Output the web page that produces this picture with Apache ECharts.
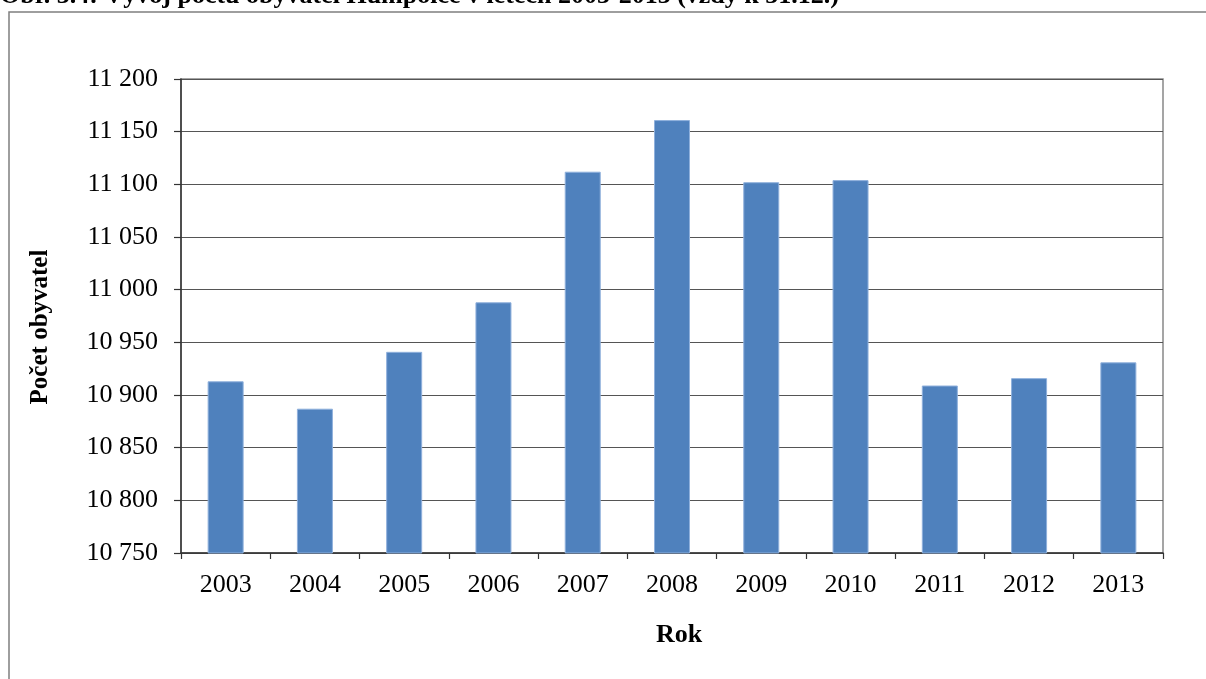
<!DOCTYPE html>
<html>
<head>
<meta charset="utf-8">
<script src="https://cdn.jsdelivr.net/npm/echarts@6/dist/echarts.min.js"></script>
<style>
html,body{margin:0;padding:0;background:#fff;}
#c{width:1206px;height:679px;}
</style>
</head>
<body>
<div id="c"></div>
<script>
const years = ['2003','2004','2005','2006','2007','2008','2009','2010','2011','2012','2013'];
const population = [10913, 10887, 10941, 10988, 11112, 11161, 11102, 11104, 10909, 10916, 10931];
const yMin = 10750, yMax = 11200, yStep = 50;
const titleText = 'Obr. 3.4: Vývoj počtu obyvatel Humpolce v letech 2003-2013 (vždy k 31.12.)';
const yName = 'Počet obyvatel';
const xName = 'Rok';

const font = '"Liberation Serif", "Times New Roman", serif';
const chart = echarts.init(document.getElementById('c'));
chart.setOption({
  animation: false,
  backgroundColor: '#fff',
  graphic: [
    { type: 'rect', shape: { x: 9, y: 12, width: 1400, height: 900 },
      style: { fill: 'none', stroke: '#7f7f7f', lineWidth: 1.5 }, z: -1 },
    { type: 'text', x: 0, y: 9,
      style: { text: titleText, font: 'bold 26px ' + font, fill: '#000', verticalAlign: 'bottom' } },
    { type: 'text', x: 679, y: 635,
      style: { text: xName, font: 'bold 26px ' + font, fill: '#000', align: 'center', verticalAlign: 'middle' } },
    { type: 'text', x: 41, y: 327, rotation: Math.PI / 2,
      style: { text: yName, font: 'bold 25px ' + font, fill: '#000', align: 'center', verticalAlign: 'middle' } }
  ],
  grid: { left: 181, right: 43, top: 79, bottom: 126, show: true, borderColor: '#888', borderWidth: 1.5, backgroundColor: 'transparent' },
  xAxis: {
    type: 'category', data: years,
    boundaryGap: true,
    axisLine: { show: true, lineStyle: { color: '#333', width: 1.5 } },
    axisTick: { show: true, length: 6, alignWithLabel: false, lineStyle: { color: '#333', width: 1.2 } },
    axisLabel: { margin: 19, fontFamily: font, fontSize: 26, color: '#000' }
  },
  yAxis: {
    type: 'value', min: yMin, max: yMax, interval: yStep,
    axisLine: { show: true, lineStyle: { color: '#333', width: 1.5 } },
    axisTick: { show: true, length: 7, lineStyle: { color: '#333', width: 1.2 } },
    splitLine: { show: true, lineStyle: { color: '#555', width: 1 } },
    axisLabel: {
      margin: 23, fontFamily: font, fontSize: 26, color: '#000',
      formatter: v => String(v).replace(/\B(?=(\d{3})+(?!\d))/g, ' ')
    }
  },
  series: [{
    type: 'bar', data: population, barWidth: 36,
    itemStyle: { color: '#4F81BD', borderColor: '#8fb0dc', borderWidth: 1 }
  }]
});
</script>
</body>
</html>
